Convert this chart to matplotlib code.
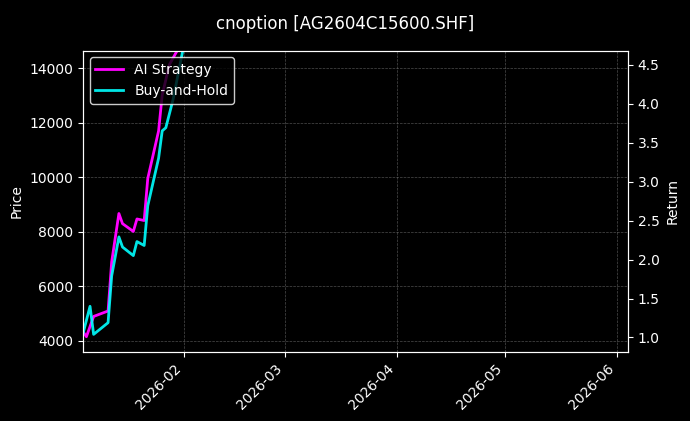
import numpy as np
import pandas as pd
import matplotlib as mpl
mpl.use('Agg')
import matplotlib.pyplot as plt
import matplotlib.dates as mdates

# dates and returns
ai_dates = ['2026-01-04', '2026-01-05', '2026-01-07', '2026-01-11', '2026-01-12', '2026-01-14',
            '2026-01-15', '2026-01-18', '2026-01-19', '2026-01-21', '2026-01-22', '2026-01-25',
            '2026-01-26', '2026-01-28', '2026-01-31']
ai_ret = [1.08, 1.01, 1.27, 1.34, 1.97, 2.59, 2.46, 2.36, 2.52, 2.50, 3.04, 3.65, 4.11, 4.50, 4.75]

bh_dates = ['2026-01-04', '2026-01-06', '2026-01-07', '2026-01-11', '2026-01-12', '2026-01-14',
            '2026-01-15', '2026-01-18', '2026-01-19', '2026-01-21', '2026-01-22', '2026-01-25',
            '2026-01-26', '2026-01-27', '2026-01-29', '2026-02-01']
bh_ret = [1.04, 1.40, 1.04, 1.19, 1.79, 2.29, 2.16, 2.05, 2.23, 2.18, 2.69, 3.30, 3.65, 3.69, 4.05, 4.75]

plt.style.use('dark_background')
mydpi = 100
fig = plt.figure(figsize=(690 / mydpi, 421 / mydpi), dpi=mydpi)
ax = fig.add_axes([0.12, 0.165, 0.79, 0.715])
ax.set_facecolor('black')
ax2 = ax.twinx()

ax.set_ylim(3600, 14660)
ax.set_xlim(pd.Timestamp('2026-01-04'), pd.Timestamp('2026-06-04'))
ax.set_ylabel('Price')
ax.grid(True, color='gray', linestyle='--', linewidth=0.5, alpha=0.6)

l1, = ax2.plot(pd.to_datetime(ai_dates), ai_ret, color='#ff00ff', lw=2, label='AI Strategy')
l2, = ax2.plot(pd.to_datetime(bh_dates), bh_ret, color='#00ffff', lw=2, label='Buy-and-Hold', alpha=0.9)
ax2.set_ylim(0.82, 4.68)
ax2.set_ylabel('Return')

ax.xaxis.set_major_locator(mdates.MonthLocator())
ax.xaxis.set_major_formatter(mdates.DateFormatter('%Y-%m'))
plt.setp(ax.get_xticklabels(), rotation=45, ha='right')

ax2.legend(handles=[l1, l2], loc='upper left', facecolor='black', edgecolor='white')
fig.suptitle('cnoption [AG2604C15600.SHF]', y=0.965)
plt.savefig('out.png', dpi=mydpi)
plt.close(fig='all')
